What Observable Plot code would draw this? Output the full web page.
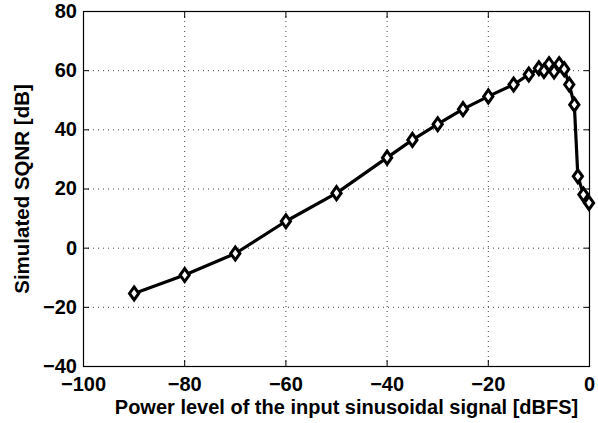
<!DOCTYPE html>
<html>
<head>
<meta charset="utf-8">
<script src="https://cdn.jsdelivr.net/npm/d3@7"></script>
<script src="https://cdn.jsdelivr.net/npm/@observablehq/plot@0.6"></script>
<style>
  body { margin: 0; background: #fff; }
</style>
</head>
<body>
<div id="chart"></div>
<script>
const powerLevel = [-90, -80, -70, -60, -50, -40, -35, -30, -25, -20, -15, -12, -10, -9, -8, -7, -6, -5, -4, -3, -2.3, -1.2, -0.1];
const sqnr = [-15.3, -9.1, -1.8, 9.1, 18.6, 30.6, 36.6, 41.9, 47, 51.3, 55.3, 58.7, 60.8, 59.9, 62.2, 59.7, 62.2, 60.5, 55.3, 48.5, 24.3, 18.1, 15.3];
const xTicks = [-100, -80, -60, -40, -20, 0];
const yTicks = [-40, -20, 0, 20, 40, 60, 80];
const xLabel = "Power level of the input sinusoidal signal [dBFS]";
const yLabel = "Simulated SQNR [dB]";

const data = powerLevel.map((x, i) => ({x, y: sqnr[i]}));

const tallDiamond = {
  draw(context, size) {
    const s = Math.sqrt(size);
    const w = s * 0.5, h = s * 0.7;
    context.moveTo(0, -h);
    context.lineTo(w, 0);
    context.lineTo(0, h);
    context.lineTo(-w, 0);
    context.closePath();
  }
};

const font = {fontSize: 20, fontWeight: "bold"};

const chart = Plot.plot({
  width: 598,
  height: 423,
  marginLeft: 83,
  marginRight: 9,
  marginTop: 11,
  marginBottom: 57,
  style: {fontFamily: "'Liberation Sans', Arial, Helvetica, sans-serif", fontSize: "20px", fontWeight: "bold", color: "#000", background: "#fff"},
  x: {domain: [-100, 0]},
  y: {domain: [-40, 80]},
  marks: [
    Plot.gridX(xTicks.slice(1, -1), {stroke: "#444", strokeOpacity: 1, strokeDasharray: "1,4", strokeWidth: 1}),
    Plot.gridY(yTicks.slice(1, -1), {stroke: "#444", strokeOpacity: 1, strokeDasharray: "1,4", strokeWidth: 1}),
    Plot.axisX({ticks: xTicks, anchor: "bottom", tickSize: -6, tickPadding: 16, label: null, ...font}),
    Plot.axisX({ticks: xTicks, anchor: "top", tickSize: -6, tickFormat: () => "", label: null}),
    Plot.axisY({ticks: yTicks, anchor: "left", tickSize: -6, tickPadding: 12.5, label: null, ...font}),
    Plot.axisY({ticks: yTicks, anchor: "right", tickSize: -6, tickFormat: () => "", label: null}),
    Plot.text([xLabel], {frameAnchor: "bottom", dy: 41, dx: 10, lineAnchor: "middle", textAnchor: "middle", fontSize: 20, fontWeight: "bold", fill: "#000"}),
    Plot.text([yLabel], {frameAnchor: "left", dx: -61, rotate: -90, lineAnchor: "middle", textAnchor: "middle", fontSize: 20.5, fontWeight: "bold", fill: "#000"}),
    Plot.frame({stroke: "#000", strokeWidth: 1.2}),
    Plot.line(data, {x: "x", y: "y", stroke: "#000", strokeWidth: 3.2}),
    Plot.dot(data, {x: "x", y: "y", symbol: tallDiamond, r: 5.2, stroke: "#000", strokeWidth: 3, fill: "#fff"})
  ]
});
document.getElementById("chart").appendChild(chart);
</script>
</body>
</html>
